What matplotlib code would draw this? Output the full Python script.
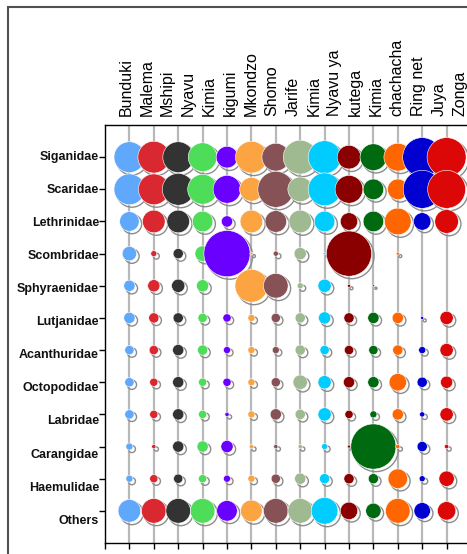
import matplotlib
matplotlib.use("Agg")
import matplotlib.pyplot as plt
from matplotlib import transforms
from matplotlib.patches import Rectangle
import numpy as np

plt.rcParams['font.family'] = ['Liberation Sans', 'DejaVu Sans']

# ---------------- data ----------------
gears = ["Bunduki", "Malema", "Mshipi", "Nyavu", "Kimia\nkigumi", "Mkondzo", "Shomo",
         "Jarife", "Kimia", "Nyavu ya\nkutega", "Kimia\nchachacha", "Ring net", "Juya", "Zonga"]

families = ["Siganidae", "Scaridae", "Lethrinidae", "Scombridae", "Sphyraenidae",
            "Lutjanidae", "Acanthuridae", "Octopodidae", "Labridae", "Carangidae",
            "Haemulidae", "Others"]

colors = ["#5FA8FB", "#DA2830", "#333333", "#4EDD58", "#6A00FF", "#FCA342", "#875256",
          "#9FB990", "#00CCFF", "#8A0000", "#006A10", "#FF6600", "#0000D0", "#DC0808"]

# percentage share of each family in the catch of each gear (rows = families)
siganidae    = [20.9, 22.3, 20.9, 18.2, 10.3, 22.3, 17.0, 25.3, 23.8, 12.3, 15.7, 17.0, 33.6, 33.6]
scaridae     = [20.9, 20.9, 22.3, 19.6, 17.0, 12.3, 28.5, 13.4, 23.8, 17.0,  9.3,  9.3, 31.8, 31.8]
lethrinidae  = [ 8.4, 11.3, 11.3,  9.3,  2.8, 11.3, 10.3, 11.3,  9.3,  6.7,  9.3, 15.7,  6.7, 12.3]
scombridae   = [ 4.6,  0.8,  2.3,  5.2, 47.1,  0.2,  0.6,  3.3,  0.1, 45.0,  0.0,  0.2,  0.0,  0.0]
sphyraenidae = [ 2.8,  3.3,  3.9,  3.3,  0.0, 23.8, 13.4,  0.8,  3.9,  0.2,  0.1,  0.0,  0.0,  0.0]
lutjanidae   = [ 2.8,  2.3,  2.3,  1.9,  1.5,  1.1,  1.9,  2.3,  3.3,  2.3,  2.8,  2.8,  0.2,  3.9]
acanthuridae = [ 1.9,  1.9,  2.8,  2.3,  1.1,  1.1,  1.1,  2.3,  1.9,  1.9,  1.9,  2.3,  1.1,  3.9]
octopodidae  = [ 1.9,  1.5,  2.8,  1.5,  1.5,  1.1,  1.9,  4.6,  3.9,  2.8,  2.8,  6.7,  2.3,  3.3]
labridae     = [ 1.9,  1.5,  2.8,  1.5,  0.4,  1.1,  2.8,  2.3,  3.9,  1.5,  1.1,  2.8,  0.6,  3.9]
carangidae   = [ 1.1,  0.4,  2.8,  2.8,  3.3,  0.4,  0.4,  0.4,  0.8,  0.2, 45.0,  0.4,  2.3,  0.4]
haemulidae   = [ 1.1,  1.5,  1.9,  1.5,  1.1,  1.1,  1.9,  2.8,  2.3,  2.3,  2.3,  8.4,  0.8,  5.2]
others       = [11.3, 13.4, 13.4, 13.4,  9.3, 10.3, 13.4, 13.4, 15.7,  6.7,  5.2, 13.4,  6.0,  7.5]

values = np.array([siganidae, scaridae, lethrinidae, scombridae, sphyraenidae, lutjanidae,
                   acanthuridae, octopodidae, labridae, carangidae, haemulidae, others])

# ---------------- figure ----------------
W, H = 467, 554
fig = plt.figure(figsize=(W / 100, H / 100), dpi=100)
fig.patch.set_facecolor("white")

ax_l, ax_r, ax_t, ax_b = 105 / W, 471 / W, 1 - 125 / H, 1 - 543 / H
ax = fig.add_axes([ax_l, ax_b, ax_r - ax_l, ax_t - ax_b])
n_rows = len(families)
n_cols = len(gears)
ax.set_xlim(0, n_cols + 1)
ax.set_ylim(0, n_rows + 1)

ypos = np.arange(n_rows, 0, -1)  # Siganidae at top
xpos = np.arange(1, n_cols + 1)

# vertical grid lines through each gear
ax.vlines(xpos, 0, n_rows + 1, colors="#b8b8b8", lw=1.6, zorder=1)

SIZE = 23.5  # pt^2 per percentage point
shadow_tr = transforms.offset_copy(ax.transData, fig=fig, x=2.5, y=-2.5, units="dots")

for j, (x, col) in enumerate(zip(xpos, colors)):
    v = values[:, j]
    m = v > 0
    xs = np.full(m.sum(), x)
    ys = ypos[m]
    s = v[m] * SIZE
    ax.scatter(xs, ys, s=s, facecolor="none", edgecolor="#8c8c8c", lw=1.0,
               transform=shadow_tr, zorder=3 + 2 * j, clip_on=False)
    ax.scatter(xs, ys, s=s, facecolor=col, edgecolor="white", lw=0.4,
               zorder=4 + 2 * j, clip_on=False)

ax.set_xticks(np.arange(0, n_cols + 2))
ax.set_yticks(ypos)
ax.tick_params(axis="x", direction="out", length=4, width=1, labelbottom=False)
ax.tick_params(axis="y", direction="out", length=4, width=1, labelleft=False)
ax.spines["right"].set_visible(False)
for sp in ["left", "bottom", "top"]:
    ax.spines[sp].set_linewidth(1.0)
    ax.spines[sp].set_color("black")

# row labels (family names)
for i, name in enumerate(families):
    fig.text(99 / W, 1 - (157 + 33.06 * i) / H, name, ha="right", va="center",
             fontsize=9, fontweight="bold", color="#111111")

# column header (gear names, rotated)
lines = []
for g in gears:
    lines.extend(g.split("\n"))
for k, line in enumerate(lines):
    fig.text((126 + 20.875 * k) / W, 1 - 116 / H, line, rotation=90,
             ha="center", va="bottom", fontsize=11.5, color="black")

# outer frame
fig.add_artist(Rectangle((7.5 / W, -0.1), 1.2, 1 - 7 / H + 0.1, transform=fig.transFigure,
                         fill=False, ec="#505050", lw=1.5))

fig.savefig("out.png", dpi=100)
